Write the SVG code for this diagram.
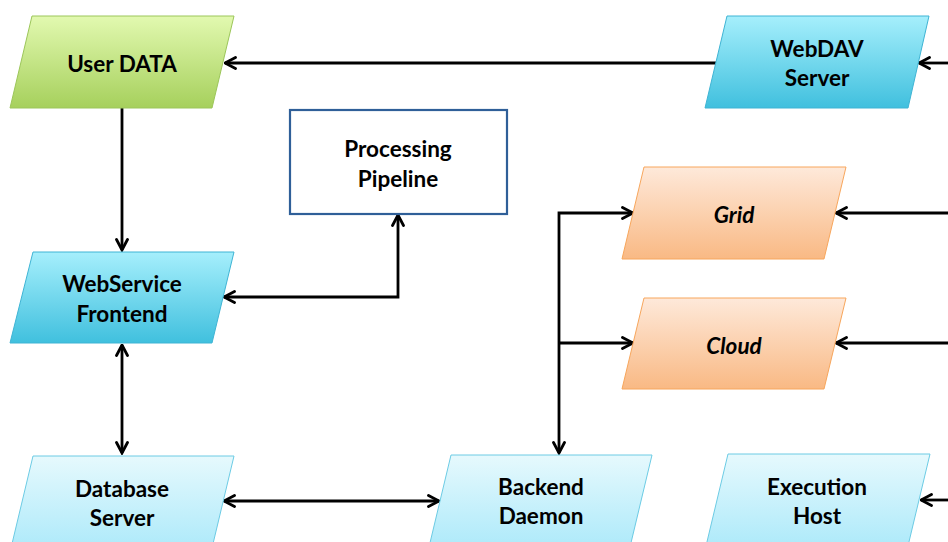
<svg xmlns="http://www.w3.org/2000/svg" width="948" height="542" viewBox="0 0 948 542">
<defs>
<linearGradient id="gGreen" x1="0" y1="0" x2="0" y2="1"><stop offset="0" stop-color="#e2f9b0"/><stop offset="1" stop-color="#a6d05c"/></linearGradient>
<linearGradient id="gCyan" x1="0" y1="0" x2="0" y2="1"><stop offset="0" stop-color="#a6effc"/><stop offset="1" stop-color="#40c0de"/></linearGradient>
<linearGradient id="gLight" x1="0" y1="0" x2="0" y2="1"><stop offset="0" stop-color="#e6f9fd"/><stop offset="1" stop-color="#aeeafa"/></linearGradient>
<linearGradient id="gOrange" x1="0" y1="0" x2="0" y2="1"><stop offset="0" stop-color="#fee9da"/><stop offset="1" stop-color="#f9b984"/></linearGradient>
<marker id="arr" viewBox="0 0 14 14" refX="12.5" refY="7" markerWidth="14" markerHeight="14" markerUnits="userSpaceOnUse" orient="auto-start-reverse">
<path d="M2,1.5 L12.5,7 L2,12.5" fill="none" stroke="#000" stroke-width="2.8" stroke-linecap="round" stroke-linejoin="miter"/>
</marker>
</defs>
<style>
.green{fill:url(#gGreen);stroke:#9cc65a;stroke-width:1}
.cyan{fill:url(#gCyan);stroke:#3fb4d4;stroke-width:1}
.light{fill:url(#gLight);stroke:#6ccbe4;stroke-width:1}
.orange{fill:url(#gOrange);stroke:#f7a65c;stroke-width:1}
.box{fill:#fff;stroke:#2f5f98;stroke-width:2.2}
.t{font-family:Lato,"Liberation Sans",sans-serif;font-weight:bold;font-size:22.5px;fill:#000;text-anchor:middle}
.i{font-style:italic}
.c{fill:none;stroke:#000;stroke-width:2.8}
</style>
<rect width="948" height="542" fill="#fff"/>
<g id="connectors">
<path class="c" d="M716,63 L225,63" marker-end="url(#arr)"/>
<path class="c" d="M948,63 L919,63" marker-end="url(#arr)"/>
<path class="c" d="M122,108 L122,250" marker-end="url(#arr)"/>
<path class="c" d="M224,297 L398,297 L398,215" marker-start="url(#arr)" marker-end="url(#arr)"/>
<path class="c" d="M122,345 L122,453" marker-start="url(#arr)" marker-end="url(#arr)"/>
<path class="c" d="M224,501 L439,501" marker-start="url(#arr)" marker-end="url(#arr)"/>
<path class="c" d="M633,213 L559,213 L559,453" marker-start="url(#arr)" marker-end="url(#arr)"/>
<path class="c" d="M559,343 L633,343" marker-end="url(#arr)"/>
<path class="c" d="M948,213 L836,213" marker-end="url(#arr)"/>
<path class="c" d="M948,343 L836,343" marker-end="url(#arr)"/>
<path class="c" d="M948,500 L921,500" marker-end="url(#arr)"/>
</g>
<g id="userdata">
<polygon class="green" points="32,16 234,16 212,108 10,108"/>
<text class="t" x="122" y="72">User DATA</text>
</g>
<g id="webdav">
<polygon class="cyan" points="727,16 929,16 908,108 705,108"/>
<text class="t" x="817" y="57">WebDAV</text>
<text class="t" x="817" y="86">Server</text>
</g>
<g id="pipeline">
<rect class="box" x="290" y="110" width="217" height="104"/>
<text class="t" x="398" y="157">Processing</text>
<text class="t" x="398" y="187">Pipeline</text>
</g>
<g id="webservice">
<polygon class="cyan" points="33,252 234,252 212,343 10,343"/>
<text class="t" x="122" y="292">WebService</text>
<text class="t" x="122" y="322">Frontend</text>
</g>
<g id="grid">
<polygon class="orange" points="644,167 846,167 824,259 622,259"/>
<text class="t i" x="734" y="223">Grid</text>
</g>
<g id="cloud">
<polygon class="orange" points="644,298 846,298 824,389 622,389"/>
<text class="t i" x="734" y="354">Cloud</text>
</g>
<g id="database">
<polygon class="light" points="33,456 234,456 212,548 11,548"/>
<text class="t" x="122" y="497">Database</text>
<text class="t" x="122" y="526">Server</text>
</g>
<g id="backend">
<polygon class="light" points="451,455 652,455 630,547 429,547"/>
<text class="t" x="541" y="495">Backend</text>
<text class="t" x="541" y="524">Daemon</text>
</g>
<g id="execution">
<polygon class="light" points="728,454 930,454 908,546 706,546"/>
<text class="t" x="817" y="495">Execution</text>
<text class="t" x="817" y="524">Host</text>
</g>
</svg>
